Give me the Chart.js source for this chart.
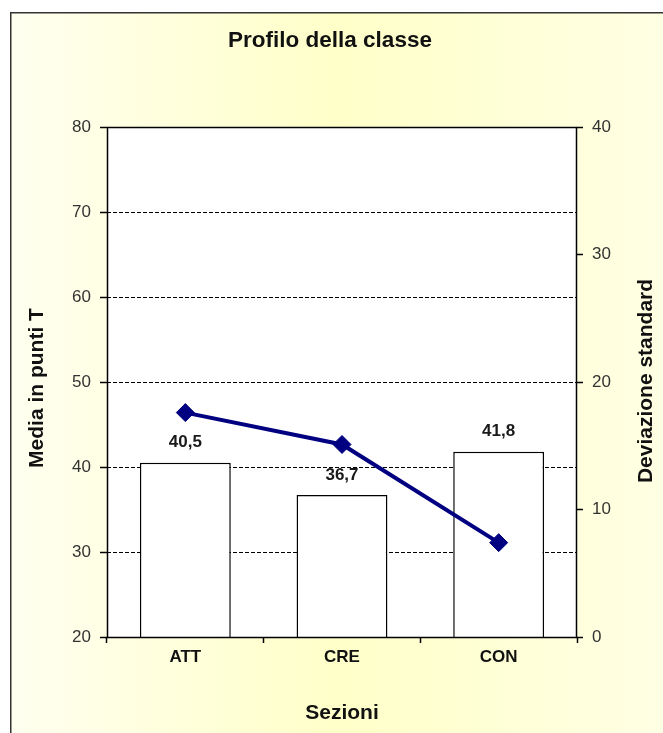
<!DOCTYPE html>
<html>
<head>
<meta charset="utf-8">
<title>Profilo della classe</title>
<script src="https://cdn.jsdelivr.net/npm/chart.js@4/dist/chart.umd.min.js"></script>
<style>
  html, body { margin: 0; padding: 0; background: #ffffff; }
  canvas { display: block; }
</style>
</head>
<body>
<canvas id="grafico" width="663" height="733"></canvas>
<script>
// Sezioni del test
const categories = ['ATT', 'CRE', 'CON'];
// Media in punti T per sezione (barre, asse sinistro)
const mediaPuntiT = [40.5, 36.7, 41.8];
// Deviazione standard per sezione (linea, asse destro)
const deviazioneStandard = [17.6, 15.1, 7.4];
// Valori delle tacche sugli assi
const leftTicks = [20, 30, 40, 50, 60, 70, 80];
const rightTicks = [0, 10, 20, 30, 40];

const FONT = '"Liberation Sans", Arial, sans-serif';

function fmt(v) {
  return v.toFixed(1).replace('.', ',');
}

// Sfondo, cornice, riquadro del grafico e testi fissi
const decorPlugin = {
  id: 'decor',
  beforeDraw(chart) {
    const { ctx, width, height, chartArea: a } = chart;
    ctx.save();
    ctx.fillStyle = '#ffffff';
    ctx.fillRect(0, 0, width, height);
    const g = ctx.createLinearGradient(10, 0, width, 0);
    g.addColorStop(0, '#fffff0');
    g.addColorStop(0.5, '#ffffc9');
    g.addColorStop(1, '#ffffe4');
    ctx.fillStyle = g;
    ctx.fillRect(11, 13, width - 11, height - 13);
    ctx.strokeStyle = '#333333';
    ctx.lineWidth = 1.5;
    ctx.beginPath();
    ctx.moveTo(10.75, height + 2);
    ctx.lineTo(10.75, 12.75);
    ctx.lineTo(width + 2, 12.75);
    ctx.stroke();
    ctx.fillStyle = '#ffffff';
    ctx.fillRect(a.left, a.top, a.right - a.left, a.bottom - a.top);
    ctx.restore();
  },
  afterDatasetsDraw(chart) {
    const { ctx } = chart;
    const meta = chart.getDatasetMeta(1);
    ctx.save();
    ctx.font = 'bold 17px ' + FONT;
    ctx.fillStyle = '#1a1a1a';
    ctx.textAlign = 'center';
    ctx.textBaseline = 'middle';
    meta.data.forEach((bar, i) => {
      ctx.fillText(fmt(mediaPuntiT[i]), bar.x, bar.y - 20);
    });
    ctx.restore();
  },
  afterDraw(chart) {
    const { ctx, chartArea: a } = chart;
    ctx.save();
    ctx.strokeStyle = '#000000';
    ctx.lineWidth = 1.5;
    ctx.strokeRect(a.left + 0.5, a.top + 0.5, a.right - a.left - 1, a.bottom - a.top);

    ctx.fillStyle = '#111111';
    ctx.textAlign = 'center';
    ctx.textBaseline = 'middle';
    ctx.font = 'bold 22.5px ' + FONT;
    ctx.fillText('Profilo della classe', 330, 41);

    ctx.font = 'bold 21px ' + FONT;
    ctx.fillText('Sezioni', (a.left + a.right) / 2, 713);

    ctx.save();
    ctx.translate(37, 388);
    ctx.rotate(-Math.PI / 2);
    ctx.fillText('Media in punti T', 0, 0);
    ctx.restore();

    ctx.save();
    ctx.translate(646, 381);
    ctx.rotate(-Math.PI / 2);
    ctx.fillText('Deviazione standard', 0, 0);
    ctx.restore();
    ctx.restore();
  }
};

new Chart(document.getElementById('grafico'), {
  data: {
    labels: categories,
    datasets: [
      {
        type: 'line',
        label: 'Deviazione standard',
        data: deviazioneStandard,
        yAxisID: 'y2',
        order: 0,
        borderColor: '#000080',
        backgroundColor: '#000080',
        borderWidth: 4,
        pointStyle: 'rectRot',
        pointRadius: 9,
        pointBorderWidth: 1,
        pointBackgroundColor: '#000080',
        pointBorderColor: '#000080',
        tension: 0
      },
      {
        type: 'bar',
        label: 'Media in punti T',
        data: mediaPuntiT,
        yAxisID: 'y',
        order: 1,
        backgroundColor: '#ffffff',
        borderColor: '#000000',
        borderWidth: 1.5,
        categoryPercentage: 1,
        barPercentage: 0.58
      }
    ]
  },
  options: {
    responsive: false,
    animation: false,
    layout: { padding: { top: 127, left: 0, right: 0, bottom: 0 } },
    plugins: {
      legend: { display: false },
      title: { display: false },
      tooltip: { enabled: false }
    },
    scales: {
      x: {
        type: 'category',
        offset: true,
        border: { display: false },
        grid: {
          offset: true,
          drawOnChartArea: false,
          drawTicks: true,
          tickLength: 6,
          tickColor: '#000000',
          tickWidth: 1.5
        },
        ticks: {
          padding: 4,
          color: '#111111',
          font: { family: FONT, size: 17, weight: 'bold' }
        },
        afterFit(scale) { scale.height = 96; }
      },
      y: {
        position: 'left',
        min: 20,
        max: 80,
        border: { display: false, dash: [4, 2] },
        afterBuildTicks(scale) { scale.ticks = leftTicks.map(v => ({ value: v })); },
        grid: {
          color: '#000000',
          lineWidth: 1,
          tickBorderDash: [],
          tickColor: '#000000',
          tickWidth: 1.5,
          tickLength: 7,
          drawTicks: true
        },
        ticks: {
          padding: 9,
          color: '#333333',
          font: { family: FONT, size: 17 }
        },
        afterFit(scale) { scale.width = 107; }
      },
      y2: {
        position: 'right',
        min: 0,
        max: 40,
        border: { display: false },
        afterBuildTicks(scale) { scale.ticks = rightTicks.map(v => ({ value: v })); },
        grid: {
          drawOnChartArea: false,
          drawTicks: true,
          tickLength: 6,
          tickColor: '#000000',
          tickWidth: 1.5
        },
        ticks: {
          padding: 9,
          color: '#333333',
          font: { family: FONT, size: 17 }
        },
        afterFit(scale) { scale.width = 86; }
      }
    }
  },
  plugins: [decorPlugin]
});
</script>
</body>
</html>
